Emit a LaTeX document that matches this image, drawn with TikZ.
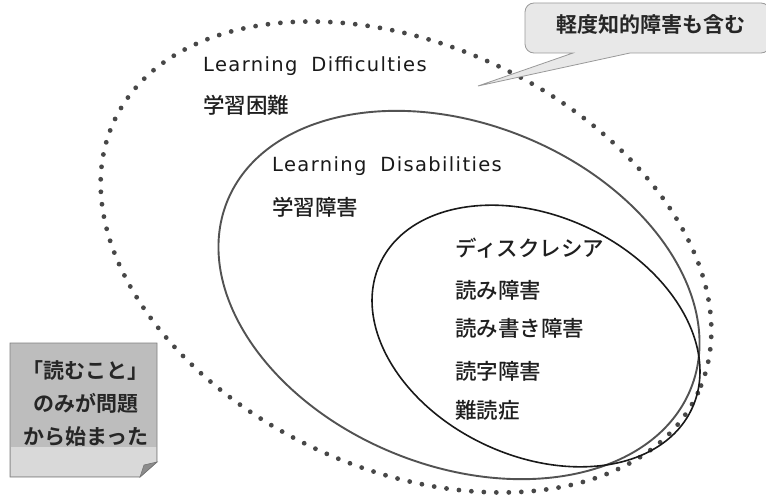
\documentclass[tikz,border=0pt]{standalone}
\usepackage{fontspec}
\setmainfont{Noto Sans CJK JP}
\newfontfamily\jp{Noto Sans CJK JP}[BoldFont={Noto Sans CJK JP Bold}]
\newfontfamily\jpm{Noto Sans CJK JP Medium}
\newfontfamily\lat[LetterSpace=7]{DejaVu Sans}
\begin{document}
\begin{tikzpicture}[x=1pt,y=-1pt,
  lbl/.style={anchor=west,inner sep=0pt,font=\jpm\fontsize{21.5}{24}\selectfont,text=black!88},
  latlbl/.style={anchor=west,inner sep=0pt,font=\lat\fontsize{19.5}{22}\selectfont,text=black!90},
  boldlbl/.style={inner sep=0pt,font=\jp\bfseries\fontsize{21}{33}\selectfont,text=black!85,align=center},
  dotline/.style={line width=4.8pt,dash pattern=on 0pt off 12.5pt,line cap=round,draw=black!72},
  midline/.style={line width=1.9pt,draw=black!68},
  innerline/.style={line width=1.6pt,draw=black!90}]
\useasboundingbox (0,0) rectangle (766,495);
\fill[white] (0,0) rectangle (766,495);
% ellipses
\draw[dotline,rotate around={-25:(406,257)}] (406,257) ellipse [x radius=322, y radius=212];
\draw[midline,rotate around={-22:(459,295)}] (459,295) ellipse [x radius=250, y radius=171];
\draw[innerline,rotate around={-25:(536,336)}] (536,336) ellipse [x radius=172, y radius=120];
% callout
\coordinate (tip) at (478,86);
\draw[draw=black!40,fill=black!9,line width=0.8pt]
  (525,30) [rounded corners=9pt] -- (525,3) -- (770,3) -- (770,53) [sharp corners] -- (630,53) -- (tip) -- (573,53) [rounded corners=9pt] -- (525,53) -- (525,30) -- cycle;
\node[boldlbl] (callout) at (651,25) {軽度知的障害も含む};
% note
\draw[draw=black!50,fill=black!26,line width=0.8pt]
  (10,343) -- (157,343) -- (157,462) -- (140,477) -- (10,477) -- cycle;
\fill[black!15] (11,447) -- (156,447) -- (156,462) -- (140,476) -- (11,476) -- cycle;
\draw[draw=black!55,fill=black!45,line width=0.6pt] (157,462) -- (140,477) -- (144,465) -- cycle;
\node[boldlbl] (note) at (86,404) {「読むこと」\\のみが問題\\から始まった};
% labels
\node[latlbl] (ld1) at (203,66) {Learning\hspace{14pt}Difficulties};
\node[lbl] (ld1j) at (203,105) {学習困難};
\node[latlbl] (ld2) at (272,166) {Learning\hspace{14pt}Disabilities};
\node[lbl] (ld2j) at (272,207) {学習障害};
\node[lbl] (d1) at (455,248) {ディスクレシア};
\node[lbl] (d2) at (455,290) {読み障害};
\node[lbl] (d3) at (455,328) {読み書き障害};
\node[lbl] (d4) at (455,371) {読字障害};
\node[lbl] (d5) at (455,410) {難読症};
\end{tikzpicture}
\end{document}
